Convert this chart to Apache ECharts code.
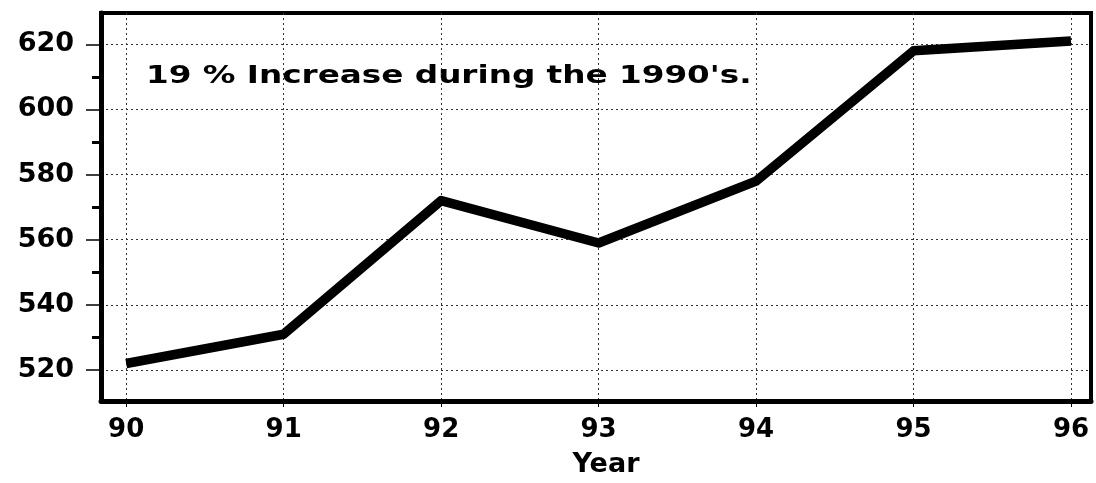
<!DOCTYPE html>
<html>
<head>
<meta charset="utf-8">
<script src="https://cdn.jsdelivr.net/npm/echarts@6/dist/echarts.min.js"></script>
<style>html,body{margin:0;padding:0;background:#fff}#c{width:1096px;height:483px}</style>
</head>
<body>
<div id="c"></div>
<script>
const years = [90, 91, 92, 93, 94, 95, 96];
const values = [522, 531, 572, 559, 578, 618, 621];
const yTicks = [520, 540, 560, 580, 600, 620];
const yMinorTicks = [530, 550, 570, 590, 610];
const note = "19 % Increase during the 1990's.";
const xName = "Year";

const data = years.map((y, i) => [y, values[i]]);
const font = "DejaVu Sans";
const chart = echarts.init(document.getElementById('c'), null, {renderer: 'canvas'});
chart.setOption({
  animation: false,
  backgroundColor: '#fff',
  grid: {left: 101, right: 5, top: 13, bottom: 80, show: true, borderColor: '#000', borderWidth: 4, backgroundColor: 'transparent'},
  xAxis: [{
    type: 'value', min: 89.84, max: 96.127,
    axisLine: {show: true, onZero: false, lineStyle: {color: '#000', width: 5}},
    axisTick: {show: true, customValues: years, length: 6, inside: false, lineStyle: {color: '#000', width: 1}},
    axisLabel: {customValues: years, margin: 16, color: '#000', fontFamily: font, fontWeight: 'bold', fontSize: 26},
    splitLine: {show: true, lineStyle: {color: '#333', width: 1, type: [2, 3]}},
    name: xName, nameLocation: 'middle', nameGap: 50,
    nameTextStyle: {color: '#000', fontFamily: font, fontWeight: 'bold', fontSize: 27, padding: [0, 0, 0, 20]}
  }],
  yAxis: [{
    type: 'value', min: 510.5, max: 629.6,
    axisLine: {show: true, onZero: false, lineStyle: {color: '#000', width: 5}},
    axisTick: {show: true, customValues: yTicks, length: 15, lineStyle: {color: '#000', width: 1.5}},
    axisLabel: {customValues: yTicks, margin: 27, color: '#000', fontFamily: font, fontWeight: 'bold', fontSize: 27},
    splitLine: {show: true, lineStyle: {color: '#333', width: 1, type: [2, 3]}}
  }, {
    type: 'value', min: 510.5, max: 629.6, position: 'left',
    axisLine: {show: false},
    axisTick: {show: true, customValues: yMinorTicks, length: 9, lineStyle: {color: '#000', width: 3}},
    axisLabel: {show: false},
    splitLine: {show: false}
  }],
  graphic: [{
    type: 'text', x: 146, y: 65, scaleX: 1.36, scaleY: 1,
    style: {text: note, fill: '#000', font: 'bold 24px "DejaVu Sans"'}
  }],
  series: [{
    type: 'line', data: data, yAxisIndex: 0,
    showSymbol: false, symbol: 'none',
    lineStyle: {color: '#000', width: 9.5, join: 'round', cap: 'butt'}
  }]
});
</script>
</body>
</html>
